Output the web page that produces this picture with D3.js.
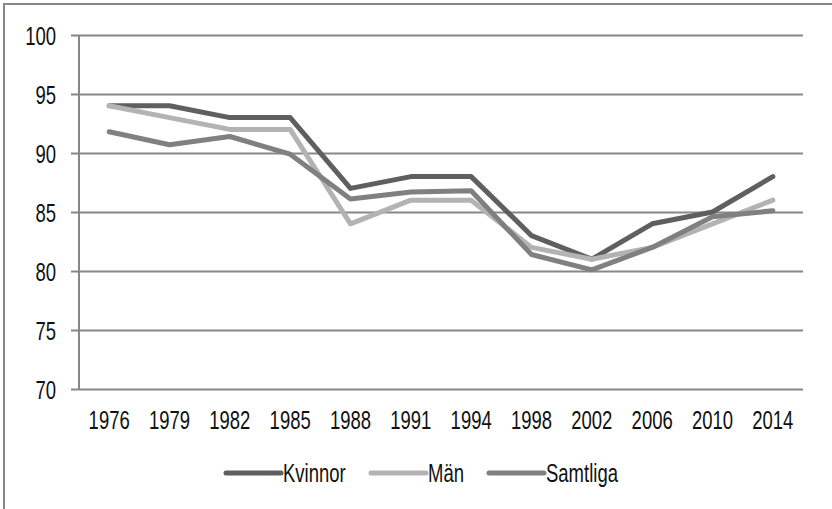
<!DOCTYPE html>
<html>
<head>
<meta charset="utf-8">
<script src="https://cdn.jsdelivr.net/npm/d3@7"></script>
<style>
  html, body { margin: 0; padding: 0; background: #fff; }
  svg text { font-family: "Liberation Sans", Arial, sans-serif; fill: #111; }
</style>
</head>
<body>
<div id="chart"></div>
<script>
const years = ["1976", "1979", "1982", "1985", "1988", "1991", "1994", "1998", "2002", "2006", "2010", "2014"];
const kvinnor = [94, 94, 93, 93, 87, 88, 88, 83, 81, 84, 85, 88];
const man = [94, 93, 92, 92, 84, 86, 86, 82, 81, 82, 84, 86];
const samtliga = [91.8, 90.7, 91.4, 89.9, 86.1, 86.7, 86.8, 81.4, 80.1, 82, 84.6, 85.1];
const yTicks = [70, 75, 80, 85, 90, 95, 100];
const seriesNames = ["Kvinnor", "Män", "Samtliga"];
const seriesColors = ["#5f5f5f", "#b3b3b3", "#808080"];

const width = 832, height = 509;
const plot = { left: 79, right: 803, top: 35, bottom: 389 };
const fontSize = 25;
const squeeze = 0.74; // the original font is a narrow one, so squash it sideways

const svg = d3.select("#chart").append("svg")
    .attr("width", width)
    .attr("height", height);

// outer frame, runs off the right and bottom edge
svg.append("rect")
    .attr("x", 4).attr("y", 4)
    .attr("width", 900).attr("height", 600)
    .attr("fill", "none")
    .attr("stroke", "#878787")
    .attr("stroke-width", 2);

const x = d3.scaleBand()
    .domain(years)
    .range([plot.left, plot.right]);

const y = d3.scaleLinear()
    .domain([70, 100])
    .range([plot.bottom, plot.top]);

// gridlines + y ticks
const yAxis = d3.axisLeft(y)
    .tickValues(yTicks)
    .tickSize(-(plot.right - plot.left))
    .tickSizeOuter(0)
    .tickPadding(0);

const gy = svg.append("g")
    .attr("transform", `translate(${plot.left},0)`)
    .call(yAxis);
gy.select(".domain").remove();
gy.selectAll(".tick line")
    .attr("x1", -8)
    .attr("stroke", "#878787")
    .attr("stroke-width", 2);
gy.selectAll(".tick text")
    .attr("x", 0)
    .attr("dy", "0.36em")
    .attr("transform", `translate(-23,0) scale(${squeeze},1)`)
    .attr("font-size", fontSize)
    .attr("font-family", null)
    .attr("fill", null);

// vertical axis line
svg.append("line")
    .attr("x1", plot.left).attr("x2", plot.left)
    .attr("y1", plot.top).attr("y2", plot.bottom)
    .attr("stroke", "#878787")
    .attr("stroke-width", 2);

// x labels
const xAxis = d3.axisBottom(x).tickSize(0).tickPadding(0);
const gx = svg.append("g")
    .attr("transform", `translate(0,${plot.bottom})`)
    .call(xAxis);
gx.select(".domain").remove();
gx.selectAll(".tick text")
    .attr("y", 0)
    .attr("dy", 0)
    .attr("transform", `translate(0,40) scale(${squeeze},1)`)
    .attr("font-size", fontSize)
    .attr("font-family", null)
    .attr("fill", null);

const cx = d => x(d) + x.bandwidth() / 2;
const line = d3.line()
    .x((d, i) => cx(years[i]))
    .y(d => y(d));

[kvinnor, man, samtliga].forEach((vals, i) => {
    svg.append("path")
        .datum(vals)
        .attr("fill", "none")
        .attr("stroke", seriesColors[i])
        .attr("stroke-width", 5)
        .attr("stroke-linejoin", "round")
        .attr("stroke-linecap", "round")
        .attr("d", line);
});

// legend
const legendX = [226, 371, 489];
const legendY = 473;
const lg = svg.append("g");
seriesNames.forEach((name, i) => {
    lg.append("line")
        .attr("x1", legendX[i]).attr("x2", legendX[i] + 55)
        .attr("y1", legendY).attr("y2", legendY)
        .attr("stroke", seriesColors[i])
        .attr("stroke-width", 5)
        .attr("stroke-linecap", "round");
    lg.append("text")
        .attr("transform", `translate(${legendX[i] + 57},${legendY}) scale(${squeeze},1)`)
        .attr("dy", "0.36em")
        .attr("font-size", fontSize)
        .text(name);
});
</script>
</body>
</html>
